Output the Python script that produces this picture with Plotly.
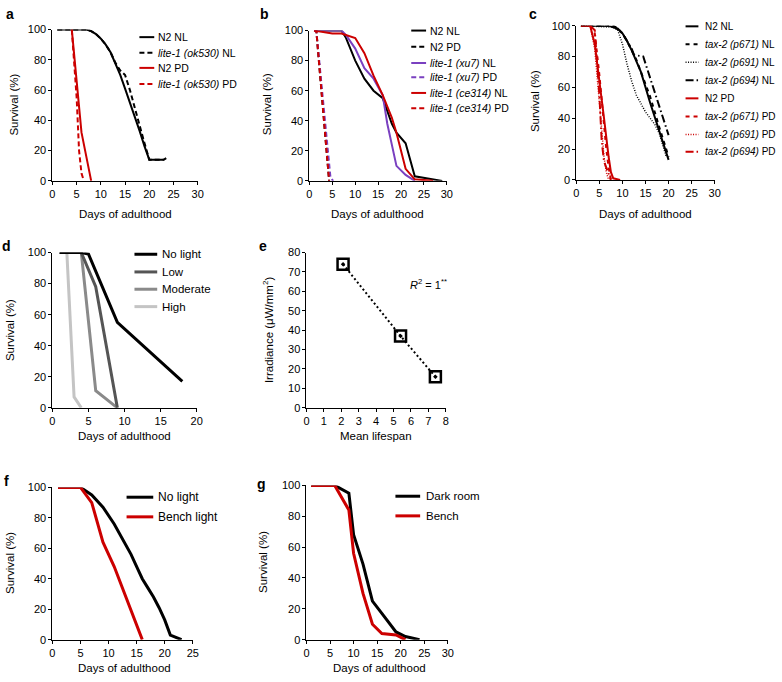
import plotly.graph_objects as go

W, H = 782, 682

# ---------------- data ----------------
# panel a
a_n2_nl_x = [1, 7, 8, 9, 10, 11, 12, 13, 14, 15, 16, 17, 18, 19, 20, 23]
a_n2_nl_y = [100, 100, 99, 97, 94, 90, 85, 78, 70, 61, 52, 42, 33, 23, 14, 14]
a_lite_nl_x = [1, 7, 8, 9, 10, 11, 12, 13, 14, 15, 16, 17, 18, 19, 20, 23, 23.5]
a_lite_nl_y = [100, 100, 99, 97, 94, 90, 85, 78, 73, 70, 60, 48, 36, 25, 14, 14, 15]
a_n2_pd_x = [4, 6, 8]
a_n2_pd_y = [100, 32, 0]
a_lite_pd_x = [4, 5, 5.5, 6, 6.5]
a_lite_pd_y = [100, 55, 20, 5, 0]
a_labels = ["N2 NL", "<i>lite-1 (ok530)</i> NL", "N2 PD", "<i>lite-1 (ok530)</i> PD"]

# panel b
b_n2_nl_x = [1, 7, 8, 10, 12, 14, 16, 17, 18, 19, 21, 23, 25, 29]
b_n2_nl_y = [100, 100, 95, 80, 68, 60, 55, 47, 38, 32, 25, 3, 2, 0]
b_n2_pd_x = [1, 1.5, 4.3]
b_n2_pd_y = [100, 100, 0]
b_xu7_nl_x = [1, 7, 8, 10, 12, 14, 16, 17, 19, 21, 23]
b_xu7_nl_y = [100, 100, 97, 88, 75, 68, 57, 38, 10, 4, 0]
b_xu7_pd_x = [1, 1.5, 4.6, 5.2]
b_xu7_pd_y = [100, 100, 2, 0]
b_ce_nl_x = [1, 5, 7, 10, 12, 14, 16, 18, 19, 20, 21, 23, 27]
b_ce_nl_y = [100, 98, 98, 95, 85, 70, 57, 42, 32, 20, 8, 1, 0]
b_ce_pd_x = [1, 1.5, 4.3]
b_ce_pd_y = [100, 100, 0]
b_labels = ["N2 NL", "N2 PD", "<i>lite-1 (xu7)</i> NL", "<i>lite-1 (xu7)</i> PD",
            "<i>lite-1 (ce314)</i> NL", "<i>lite-1 (ce314)</i> PD"]

# panel c
c_n2_nl_x = [1, 7, 8, 9, 10, 11, 12, 14, 16, 18, 20]
c_n2_nl_y = [100, 100, 99, 98, 95, 90, 84, 70, 50, 32, 13]
c_p671_nl_x = [1, 8, 9, 10, 11, 12, 13, 14, 16, 18, 20]
c_p671_nl_y = [100, 100, 98, 95, 90, 84, 78, 70, 54, 34, 15]
c_p691_nl_x = [1, 8, 9, 10, 11, 12, 13, 14, 15, 16, 17, 18, 19, 19.5]
c_p691_nl_y = [100, 99, 97, 88, 75, 64, 55, 49, 44, 40, 36, 30, 20, 15]
c_p694_nl_x = [1, 8, 10, 11, 12, 12.5, 14.5, 20]
c_p694_nl_y = [100, 100, 95, 90, 85, 81, 80, 29]
c_n2_pd_x = [1, 3, 4, 5, 6, 7, 7.5, 8, 9.5]
c_n2_pd_y = [100, 100, 88, 65, 40, 15, 5, 1, 0]
c_p671_pd_x = [3, 4, 5, 6, 6.5, 7, 7.5]
c_p671_pd_y = [100, 95, 68, 35, 20, 8, 0]
c_p691_pd_x = [1, 3, 4, 5, 6, 6.5, 7]
c_p691_pd_y = [100, 100, 85, 50, 15, 5, 0]
c_p694_pd_x = [3, 4, 5, 5.5, 6, 7, 7.5]
c_p694_pd_y = [100, 97, 55, 25, 12, 3, 0]
c_labels = ["N2 NL", "<i>tax-2 (p671)</i> NL", "<i>tax-2 (p691)</i> NL", "<i>tax-2 (p694)</i> NL",
            "N2 PD", "<i>tax-2 (p671)</i> PD", "<i>tax-2 (p691)</i> PD", "<i>tax-2 (p694)</i> PD"]

# panel d
d_nolight_x = [1, 4, 5, 9, 18]
d_nolight_y = [100, 100, 99, 55, 17]
d_low_x = [1, 4, 6, 9]
d_low_y = [100, 100, 78, 0]
d_mod_x = [1, 4, 6, 9]
d_mod_y = [100, 100, 11, 0]
d_high_x = [1, 2, 3, 4]
d_high_y = [100, 100, 7, 0]
d_labels = ["No light", "Low", "Moderate", "High"]

# panel e
e_lifespan = [2.1, 5.4, 7.4]
e_irradiance = [74, 37, 16]
e_r2_text = "<i>R</i><sup>2</sup> = 1<sup>**</sup>"

# panel f
f_nolight_x = [1, 5, 7, 9, 11, 13, 14, 15, 16, 17, 18, 19, 20, 21, 23]
f_nolight_y = [100, 100, 95, 87, 76, 63, 56, 48, 40, 34, 28, 21, 13, 3, 0]
f_bench_x = [1, 5, 7, 9, 11, 13, 16]
f_bench_y = [100, 100, 90, 64, 48, 29, 0]
f_labels = ["No light", "Bench light"]

# panel g
g_dark_x = [1, 6, 9, 10, 12, 14, 16, 19, 21, 24]
g_dark_y = [100, 100, 95, 68, 49, 25, 17, 5, 2, 0]
g_bench_x = [1, 6, 9, 10, 12, 14, 16, 19, 21]
g_bench_y = [100, 100, 84, 56, 30, 10, 4, 3, 0]
g_labels = ["Dark room", "Bench"]

# ---------------- styles ----------------
RED = "#cc0000"
PURPLE = "#7a40c0"
FONT = "Arial, Liberation Sans, sans-serif"
TICK_FS = 11
TITLE_FS = 11.5


def px(x):
    return x / W


def py(y):
    return 1 - y / H


fig = go.Figure()

# panel geometry (pixels): x0, x1, ytop, ybottom
panels = {
    "a": (50, 197, 24, 178),
    "b": (310, 449, 25, 178),
    "c": (580, 720, 20, 177),
    "d": (50, 196, 251, 409),
    "e": (307, 448, 251, 409),
    "f": (50, 192, 490, 645),
    "g": (307, 450, 488, 645),
}
order = ["a", "b", "c", "d", "e", "f", "g"]
xranges = {"a": [0, 30], "b": [0, 30], "c": [0, 30], "d": [0, 20], "e": [0, 8], "f": [0, 25], "g": [0, 30]}
yranges = {k: [0, 100] for k in order}
yranges["e"] = [0, 80]
xdt = {"a": 5, "b": 5, "c": 5, "d": 5, "e": 1, "f": 5, "g": 5}
ydt = {k: 20 for k in order}
ydt["e"] = 10

layout = dict(
    width=W, height=H, margin=dict(l=0, r=0, t=0, b=0),
    paper_bgcolor="white", plot_bgcolor="white", showlegend=False,
    font=dict(family=FONT, color="black", size=TICK_FS),
)
for i, k in enumerate(order):
    n = "" if i == 0 else str(i + 1)
    x0, x1, yt, yb = panels[k]
    ax = dict(showline=True, linecolor="black", linewidth=1, ticks="outside", ticklen=3,
              tickcolor="black", tickwidth=1, showgrid=False, zeroline=False,
              tickfont=dict(size=TICK_FS, family=FONT, color="black"))
    layout["xaxis" + n] = dict(ax, domain=[px(x0), px(x1)], range=xranges[k], dtick=xdt[k],
                               tick0=0, anchor="y" + n)
    layout["yaxis" + n] = dict(ax, domain=[py(yb), py(yt)], range=yranges[k], dtick=ydt[k],
                               tick0=0, anchor="x" + n)
fig.update_layout(**layout)

axmap = {k: ("x" + ("" if i == 0 else str(i + 1)), "y" + ("" if i == 0 else str(i + 1)))
         for i, k in enumerate(order)}


def add_line(k, x, y, color, width, dash="solid"):
    xa, ya = axmap[k]
    fig.add_trace(go.Scatter(x=x, y=y, mode="lines", xaxis=xa, yaxis=ya,
                             line=dict(color=color, width=width, dash=dash),
                             hoverinfo="skip"))


DASH = "5px,3px"
LW = 2

# a
a_styles = [("black", LW, "solid"), ("black", LW, DASH), (RED, LW, "solid"), (RED, LW, DASH)]
a_series = [(a_n2_nl_x, a_n2_nl_y), (a_lite_nl_x, a_lite_nl_y), (a_n2_pd_x, a_n2_pd_y), (a_lite_pd_x, a_lite_pd_y)]
for (x, y), (c, w, d) in zip(a_series, a_styles):
    add_line("a", x, y, c, w, d)

# b
b_styles = [("black", LW, "solid"), ("black", LW, DASH), (PURPLE, LW, "solid"), (PURPLE, LW, DASH),
            (RED, LW, "solid"), (RED, LW, DASH)]
b_series = [(b_n2_nl_x, b_n2_nl_y), (b_n2_pd_x, b_n2_pd_y), (b_xu7_nl_x, b_xu7_nl_y),
            (b_xu7_pd_x, b_xu7_pd_y), (b_ce_nl_x, b_ce_nl_y), (b_ce_pd_x, b_ce_pd_y)]
for (x, y), (c, w, d) in zip(b_series, b_styles):
    add_line("b", x, y, c, w, d)

# c
c_styles = [("black", LW, "solid"), ("black", LW, "4px,4px"), ("black", 1.5, "1px,1.5px"),
            ("black", LW, "8px,3px,1.5px,3px"),
            (RED, LW, "solid"), (RED, LW, "4px,4px"), (RED, 1.5, "1px,1.5px"), (RED, LW, "8px,3px,1.5px,3px")]
c_series = [(c_n2_nl_x, c_n2_nl_y), (c_p671_nl_x, c_p671_nl_y), (c_p691_nl_x, c_p691_nl_y),
            (c_p694_nl_x, c_p694_nl_y), (c_n2_pd_x, c_n2_pd_y), (c_p671_pd_x, c_p671_pd_y),
            (c_p691_pd_x, c_p691_pd_y), (c_p694_pd_x, c_p694_pd_y)]
for (x, y), (c, w, d) in zip(c_series, c_styles):
    add_line("c", x, y, c, w, d)

# d
d_styles = [("black", 3, "solid"), ("#555555", 3, "solid"), ("#8a8a8a", 3, "solid"), ("#c4c4c4", 3, "solid")]
d_series = [(d_nolight_x, d_nolight_y), (d_low_x, d_low_y), (d_mod_x, d_mod_y), (d_high_x, d_high_y)]
for (x, y), (c, w, d) in reversed(list(zip(d_series, d_styles))):
    add_line("d", x, y, c, w, d)

# e
fig.add_trace(go.Scatter(x=e_lifespan, y=e_irradiance, mode="lines+markers", xaxis="x5", yaxis="y5",
                         line=dict(color="black", width=2, dash="2px,2.5px"),
                         marker=dict(symbol="square-open-dot", size=11, color="black",
                                     line=dict(color="black", width=2.5)),
                         hoverinfo="skip"))

# f
f_styles = [("black", 3, "solid"), (RED, 3, "solid")]
f_series = [(f_nolight_x, f_nolight_y), (f_bench_x, f_bench_y)]
for (x, y), (c, w, d) in zip(f_series, f_styles):
    add_line("f", x, y, c, w, d)

# g
g_styles = [("black", 3, "solid"), (RED, 3, "solid")]
g_series = [(g_dark_x, g_dark_y), (g_bench_x, g_bench_y)]
for (x, y), (c, w, d) in zip(g_series, g_styles):
    add_line("g", x, y, c, w, d)

shapes = []
annotations = []


def text(x, y, s, size, angle=0, xanchor="center", bold=False):
    annotations.append(dict(x=px(x), y=py(y), xref="paper", yref="paper", text=("<b>%s</b>" % s) if bold else s,
                            showarrow=False, xanchor=xanchor, yanchor="middle", textangle=angle,
                            font=dict(family=FONT, size=size, color="black")))


def legend(labels, styles, lx0, lx1, tx, ys, size):
    for lab, (c, w, d), yy in zip(labels, styles, ys):
        shapes.append(dict(type="line", xref="paper", yref="paper", x0=px(lx0), x1=px(lx1),
                           y0=py(yy), y1=py(yy), line=dict(color=c, width=w, dash=d)))
        text(tx, yy, lab, size, xanchor="left")


legend(a_labels, a_styles, 138, 153, 155, [31.7, 47.7, 63, 79.5], 10.5)
legend(b_labels, b_styles, 413, 428, 430, [25, 41.5, 58, 72.5, 88.5, 104], 10.5)
legend(c_labels, c_styles, 690.5, 703.5, 708, [20.7, 39, 57.3, 75.7, 94, 112.5, 130.7, 148.3], 10)
legend(d_labels, d_styles, 133, 156, 159, [252.7, 270.7, 288.3, 306], 11.5)
legend(f_labels, f_styles, 125, 152, 155, [500, 520], 12)
legend(g_labels, g_styles, 397, 422, 426, [499, 519], 11.5)

# panel letters
for lab, (x, y) in {"a": (7, 8), "b": (265, 8), "c": (536, 8), "d": (4, 244),
                    "e": (263, 244), "f": (4, 484), "g": (262, 487)}.items():
    text(x, y, lab, 14, bold=True)

# axis titles
surv = "Survival (%)"
days = "Days of adulthood"
text(11.5, 100, surv, TITLE_FS, angle=-90)
text(267, 100, surv, TITLE_FS, angle=-90)
text(538, 97, surv, TITLE_FS, angle=-90)
text(7, 330, surv, TITLE_FS, angle=-90)
text(268, 330, "Irradiance (μW/mm<sup>2</sup>)", TITLE_FS, angle=-90)
text(7, 567, surv, TITLE_FS, angle=-90)
text(263, 566, surv, TITLE_FS, angle=-90)
text(124, 211.5, days, TITLE_FS)
text(379, 211.5, days, TITLE_FS)
text(650, 211.5, days, TITLE_FS)
text(123, 438, days, TITLE_FS)
text(377.5, 438, "Mean lifespan", TITLE_FS)
text(123, 674, days, TITLE_FS)
text(380.5, 674, days, TITLE_FS)

text(430, 283, e_r2_text, 11)

fig.update_layout(shapes=shapes, annotations=annotations)
fig.write_html("out.html", config={"displayModeBar": False, "staticPlot": True},
               post_script="document.body.style.margin='0';document.body.style.overflow='hidden';")
